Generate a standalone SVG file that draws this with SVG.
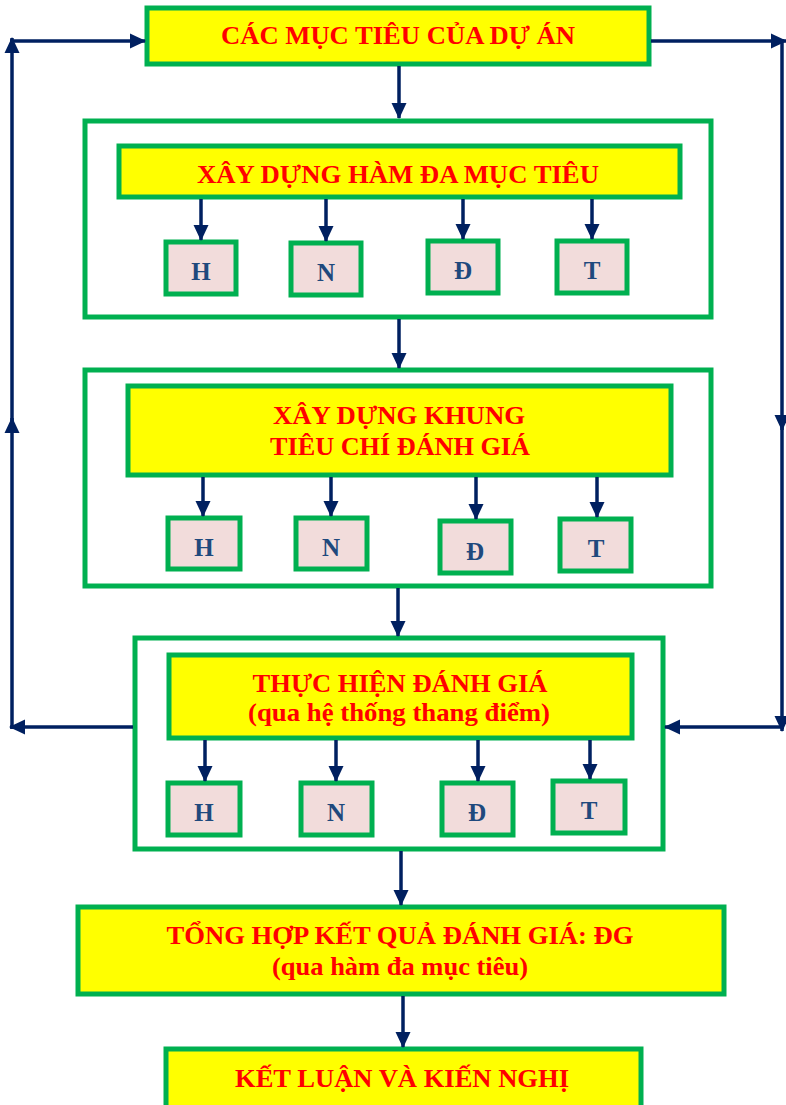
<svg xmlns="http://www.w3.org/2000/svg" width="786" height="1105" viewBox="0 0 786 1105">
<defs>
<marker id="ah" markerWidth="16" markerHeight="16" refX="15" refY="8" orient="auto" markerUnits="userSpaceOnUse">
<path d="M0,0.5 L16,8 L0,15.5 Z" fill="#002060"/>
</marker>
<style>
.frame{fill:#fff;stroke:#00B050;stroke-width:5}
.yb{fill:#FFFF00;stroke:#00B050;stroke-width:5}
.sb{fill:#F2DCDB;stroke:#00B050;stroke-width:5}
.t{font-family:"Liberation Serif",serif;font-weight:bold;fill:#FF0000;font-size:26px;text-anchor:middle}
.l{font-family:"Liberation Serif",serif;font-weight:bold;fill:#1F497D;font-size:25px;text-anchor:middle}
.c line{stroke:#002060;stroke-width:3.5;fill:none}
</style>
</defs>
<rect width="786" height="1105" fill="#fff"/>

<g id="frame1"><rect class="frame" x="85" y="121" width="626" height="196"/></g>
<g id="frame2"><rect class="frame" x="85" y="370" width="626" height="216"/></g>
<g id="frame3"><rect class="frame" x="135" y="638" width="528" height="211"/></g>

<g id="n-muctieu"><rect class="yb" x="147" y="8" width="502" height="56"/>
<text class="t" x="398" y="44" textLength="354" lengthAdjust="spacingAndGlyphs">CÁC MỤC TIÊU CỦA DỰ ÁN</text></g>

<g id="n-ham"><rect class="yb" x="119" y="146" width="561" height="51"/>
<text class="t" x="398" y="183" textLength="402" lengthAdjust="spacingAndGlyphs">XÂY DỰNG HÀM ĐA MỤC TIÊU</text></g>

<g id="n-h1"><rect class="sb" x="166" y="242" width="70" height="52"/><text class="l" x="201" y="280">H</text></g>
<g id="n-n1"><rect class="sb" x="291" y="243" width="70" height="52"/><text class="l" x="326" y="281">N</text></g>
<g id="n-d1"><rect class="sb" x="428" y="241" width="70" height="52"/><text class="l" x="463" y="279">Đ</text></g>
<g id="n-t1"><rect class="sb" x="557" y="241" width="70" height="52"/><text class="l" x="592" y="279">T</text></g>

<g id="n-khung"><rect class="yb" x="128" y="386" width="543" height="89"/>
<text class="t" x="399" y="424" textLength="252" lengthAdjust="spacingAndGlyphs">XÂY DỰNG KHUNG</text>
<text class="t" x="400" y="455" textLength="260" lengthAdjust="spacingAndGlyphs">TIÊU CHÍ ĐÁNH GIÁ</text></g>

<g id="n-h2"><rect class="sb" x="168" y="518" width="72" height="51"/><text class="l" x="204" y="556">H</text></g>
<g id="n-n2"><rect class="sb" x="296" y="518" width="71" height="51"/><text class="l" x="331" y="556">N</text></g>
<g id="n-d2"><rect class="sb" x="440" y="521" width="71" height="52"/><text class="l" x="475" y="560">Đ</text></g>
<g id="n-t2"><rect class="sb" x="560" y="519" width="71" height="52"/><text class="l" x="596" y="557">T</text></g>

<g id="n-thuchien"><rect class="yb" x="169" y="655" width="463" height="83"/>
<text class="t" x="400" y="692" textLength="295" lengthAdjust="spacingAndGlyphs">THỰC HIỆN ĐÁNH GIÁ</text>
<text class="t" x="399" y="721" textLength="302" lengthAdjust="spacingAndGlyphs">(qua hệ thống thang điểm)</text></g>

<g id="n-h3"><rect class="sb" x="168" y="783" width="72" height="52"/><text class="l" x="204" y="821">H</text></g>
<g id="n-n3"><rect class="sb" x="301" y="783" width="71" height="52"/><text class="l" x="336" y="821">N</text></g>
<g id="n-d3"><rect class="sb" x="442" y="783" width="71" height="52"/><text class="l" x="477" y="821">Đ</text></g>
<g id="n-t3"><rect class="sb" x="553" y="781" width="72" height="52"/><text class="l" x="589" y="819">T</text></g>

<g id="n-tonghop"><rect class="yb" x="78" y="907" width="646" height="87"/>
<text class="t" x="400" y="944" textLength="467" lengthAdjust="spacingAndGlyphs">TỔNG HỢP KẾT QUẢ ĐÁNH GIÁ: ĐG</text>
<text class="t" x="400" y="975" textLength="256" lengthAdjust="spacingAndGlyphs">(qua hàm đa mục tiêu)</text></g>

<g id="n-ketluan"><rect class="yb" x="166" y="1049" width="475" height="60"/>
<text class="t" x="402" y="1087" textLength="334" lengthAdjust="spacingAndGlyphs">KẾT LUẬN VÀ KIẾN NGHỊ</text></g>

<g id="connectors" class="c">
<line x1="399" y1="66" x2="399" y2="118" marker-end="url(#ah)"/>
<line x1="201" y1="199" x2="201" y2="240" marker-end="url(#ah)"/>
<line x1="326" y1="199" x2="326" y2="241" marker-end="url(#ah)"/>
<line x1="463" y1="199" x2="463" y2="239" marker-end="url(#ah)"/>
<line x1="592" y1="199" x2="592" y2="239" marker-end="url(#ah)"/>
<line x1="399" y1="319" x2="399" y2="368" marker-end="url(#ah)"/>
<line x1="203" y1="477" x2="203" y2="516" marker-end="url(#ah)"/>
<line x1="331" y1="477" x2="331" y2="516" marker-end="url(#ah)"/>
<line x1="476" y1="477" x2="476" y2="519" marker-end="url(#ah)"/>
<line x1="597" y1="477" x2="597" y2="517" marker-end="url(#ah)"/>
<line x1="398" y1="588" x2="398" y2="636" marker-end="url(#ah)"/>
<line x1="205" y1="740" x2="205" y2="781" marker-end="url(#ah)"/>
<line x1="336" y1="740" x2="336" y2="781" marker-end="url(#ah)"/>
<line x1="478" y1="740" x2="478" y2="781" marker-end="url(#ah)"/>
<line x1="590" y1="740" x2="590" y2="779" marker-end="url(#ah)"/>
<line x1="401" y1="851" x2="401" y2="905" marker-end="url(#ah)"/>
<line x1="403" y1="996" x2="403" y2="1047" marker-end="url(#ah)"/>
<!-- left feedback loop -->
<line x1="133" y1="727" x2="10" y2="727" marker-end="url(#ah)"/>
<line x1="12" y1="729" x2="12" y2="418" marker-end="url(#ah)"/>
<line x1="12" y1="422" x2="12" y2="38" marker-end="url(#ah)"/>
<line x1="10" y1="41" x2="145" y2="41" marker-end="url(#ah)"/>
<!-- right feed loop -->
<line x1="651" y1="41" x2="786" y2="41" marker-end="url(#ah)"/>
<line x1="782" y1="39" x2="782" y2="430" marker-end="url(#ah)"/>
<line x1="782" y1="426" x2="782" y2="731" marker-end="url(#ah)"/>
<line x1="784" y1="727" x2="665" y2="727" marker-end="url(#ah)"/>
</g>
</svg>
